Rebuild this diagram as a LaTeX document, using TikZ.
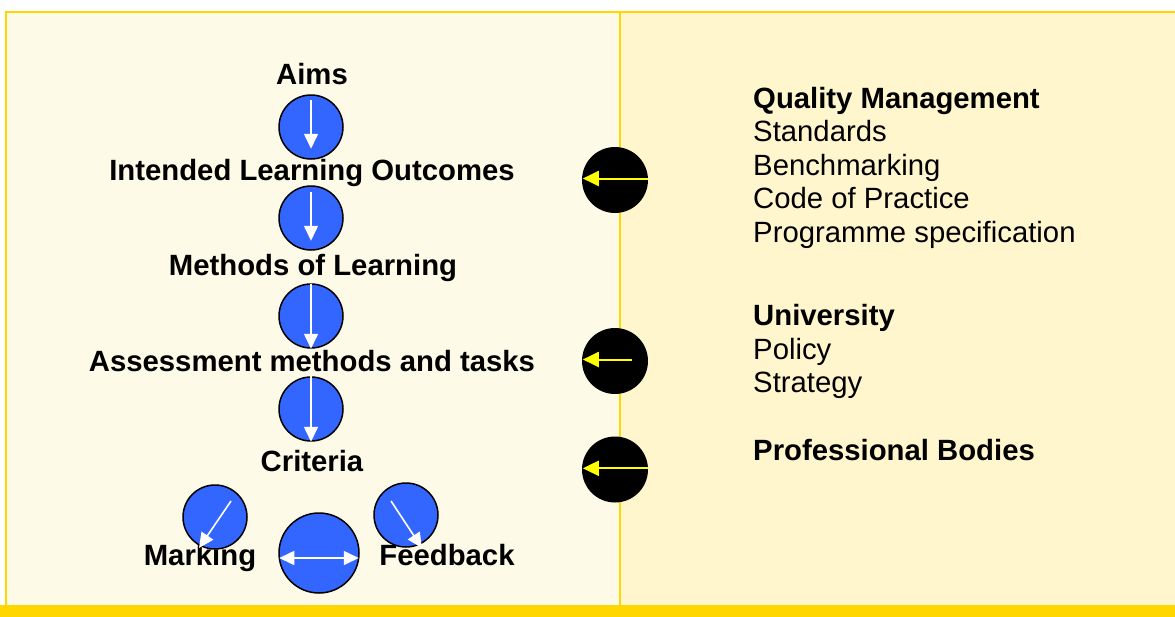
\documentclass[tikz,border=0pt]{standalone}
\usepackage{fontspec}
\setmainfont{Liberation Sans}
\usetikzlibrary{arrows.meta,calc}
\definecolor{gold}{RGB}{255,214,0}
\definecolor{leftbg}{RGB}{254,250,232}
\definecolor{rightbg}{RGB}{255,246,206}
\definecolor{cblue}{RGB}{51,102,255}
\definecolor{ayellow}{RGB}{255,255,0}
\tikzset{
  bluec/.style={circle,draw=black,line width=1.5pt,fill=cblue,inner sep=0pt,minimum size=64pt},
  blackc/.style={circle,fill=black,inner sep=0pt,minimum size=66pt},
  warrow/.style={draw=white,line width=1.6pt,-{Triangle[width=14pt,length=15pt]}},
  wdarrow/.style={draw=white,line width=1.6pt,{Triangle[width=14pt,length=15pt]}-{Triangle[width=14pt,length=15pt]}},
  yarrow/.style={draw=ayellow,line width=2pt,-{Triangle[width=15pt,length=16pt]}},
  lbl/.style={anchor=base,inner sep=0pt,font=\fontsize{29.3pt}{33.5pt}\selectfont\bfseries},
  rtxt/.style={anchor=base west,inner sep=0pt,font=\fontsize{29.3pt}{33.5pt}\selectfont},
  rbold/.style={rtxt,font=\fontsize{29.3pt}{33.5pt}\selectfont\bfseries}
}
\begin{document}
\begin{tikzpicture}[x=1pt,y=-1pt]
\useasboundingbox (0,0) rectangle (1175,616);
\fill[white] (0,0) rectangle (1175,616);
% panels
\fill[leftbg] (6,12) rectangle (620,605);
\fill[rightbg] (620,12) rectangle (1175,605);
\draw[gold,line width=2pt] (1176,12) -- (6,12) -- (6,605);
\draw[gold,line width=2pt] (620,12) -- (620,605);
\fill[gold] (-2,605) rectangle (1177,620);
% left labels
\node[lbl] (aims) at (312,84) {Aims};
\node[lbl] (ilo) at (312,180) {Intended Learning Outcomes};
\node[lbl] (mol) at (313,275.5) {Methods of Learning};
\node[lbl] (amt) at (312,371.5) {Assessment methods and tasks};
\node[lbl] (crit) at (312,471) {Criteria};
\node[lbl] (mark) at (200,565) {Marking};
\node[lbl] (feed) at (447,565) {Feedback};
% blue circles
\node[bluec] (c1) at (311,127) {};
\node[bluec] (c2) at (311,218) {};
\node[bluec] (c3) at (311,316) {};
\node[bluec] (c4) at (311,409) {};
\node[bluec] (cm) at (215,517) {};
\node[bluec] (cf) at (406,515) {};
\node[bluec,minimum size=80pt] (cc) at (319,553) {};
% white arrows
\draw[warrow] ([yshift=-6pt]c1.north) -- ([yshift=11pt]c1.south);
\draw[warrow] ([yshift=-7pt]c2.north) -- ([yshift=10pt]c2.south);
\draw[warrow] ([yshift=-1pt]c3.north) -- (c3.south);
\draw[warrow] (c4.north) -- (c4.south);
\draw[warrow] ($(cm.center)+(16,-16)$) -- ($(cm.center)+(-16,31)$);
\draw[warrow] ($(cf.center)+(-15,-14)$) -- ($(cf.center)+(16,33)$);
\draw[wdarrow] ($(cc.west)+(1,5)$) -- ($(cc.east)+(-1,5)$);
% black circles
\node[blackc] (b1) at (615,180) {};
\node[blackc] (b2) at (615,361) {};
\node[blackc] (b3) at (615,469.5) {};
\draw[yarrow] ($(b1.east)+(0,-1.5)$) -- ($(b1.west)+(1,-1.5)$);
\draw[yarrow] ($(b2.east)+(-16,-1.5)$) -- ($(b2.west)+(1,-1.5)$);
\draw[yarrow] ($(b3.east)+(0,-1.2)$) -- ($(b3.west)+(1,-1.2)$);
% right texts
\node[rbold] (qm) at (753,108) {Quality Management};
\node[rtxt] (st) at (753,141) {Standards};
\node[rtxt] (bm) at (753,175) {Benchmarking};
\node[rtxt] (cp) at (753,208.5) {Code of Practice};
\node[rtxt] (ps) at (753,242) {Programme specification};
\node[rbold] (un) at (753,325.5) {University};
\node[rtxt] (po) at (753,359) {Policy};
\node[rtxt] (sg) at (753,392) {Strategy};
\node[rbold] (pb) at (753,460) {Professional Bodies};
\end{tikzpicture}
\end{document}
